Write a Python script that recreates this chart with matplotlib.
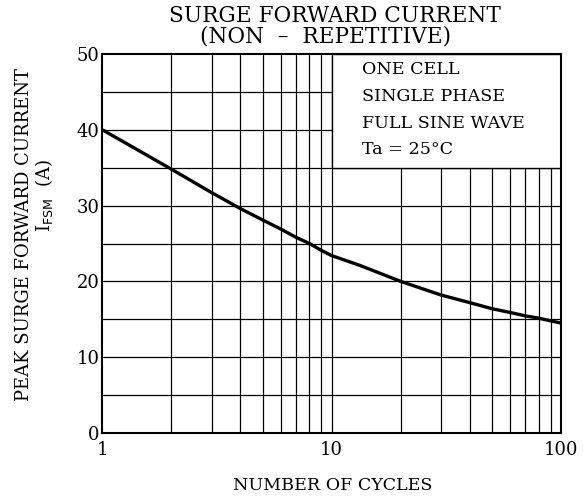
import matplotlib
matplotlib.use("Agg")
import matplotlib.pyplot as plt
from matplotlib.patches import Rectangle
import numpy as np

# Data
cycles = [1, 2, 3, 4, 5, 6, 7, 8, 9, 10, 13.3, 20, 30, 40, 50, 60, 70, 80, 90, 100]
ifsm = [40.0, 34.8, 31.7, 29.6, 28.1, 26.9, 25.8, 25.0, 24.1, 23.4, 22.1,
        20.0, 18.2, 17.2, 16.4, 15.9, 15.45, 15.15, 14.8, 14.5]

y_ticks = [0, 10, 20, 30, 40, 50]
y_minor = [5, 15, 25, 35, 45]
x_ticks = [1, 10, 100]
x_tick_labels = ["1", "10", "100"]
x_grid = [2, 3, 4, 5, 6, 7, 8, 9, 10, 20, 30, 40, 50, 60, 70, 80, 90]
note_lines = ["ONE CELL", "SINGLE PHASE", "FULL SINE WAVE", "Ta = 25°C"]

plt.rcParams['font.family'] = ['DejaVu Serif']

W, H = 583, 497
fig = plt.figure(figsize=(W / 100, H / 100), dpi=100)
ax = fig.add_axes([102.4 / W, 1 - 433 / H, (561 - 102.4) / W, (433 - 54) / H])
ax.set_xscale('log')
ax.set_xlim(1, 100)
ax.set_ylim(0, 50)

# grid
for xv in x_grid:
    ax.axvline(xv, color='black', lw=0.9, zorder=1)
for yv in sorted(y_ticks[1:-1] + y_minor):
    ax.axhline(yv, color='black', lw=0.9, zorder=1)

# note box (upper-right region)
box = Rectangle((10, 35), 90, 15, facecolor='white', edgecolor='black',
                lw=1.0, zorder=2)
ax.add_patch(box)
for i, t in enumerate(note_lines):
    fig.text(362 / W, 1 - (70 + i * 26.5) / H, t, fontsize=12.6,
             va='center', ha='left', zorder=5)

# curve
ax.plot(cycles, ifsm, color='black', lw=2.4, zorder=4, solid_capstyle='butt',
        solid_joinstyle='round')

ax.set_xticks(x_ticks)
ax.set_xticklabels(x_tick_labels)
ax.xaxis.set_minor_locator(matplotlib.ticker.NullLocator())
ax.set_yticks(y_ticks)
ax.tick_params(axis='both', length=0, labelsize=13)
ax.tick_params(axis='x', pad=6)
ax.tick_params(axis='y', pad=2)
for s in ax.spines.values():
    s.set_linewidth(1.5)
    s.set_zorder(6)

fig.text(335 / W, 1 - 16 / H, "SURGE FORWARD CURRENT", fontsize=15.6,
         ha='center', va='center')
fig.text(326 / W, 1 - 37 / H, "(NON  –  REPETITIVE)", fontsize=15.6,
         ha='center', va='center')
fig.text(333 / W, 1 - 485 / H, "NUMBER OF CYCLES", fontsize=12.6,
         ha='center', va='center')
fig.text(24 / W, 1 - 235 / H, "PEAK SURGE FORWARD CURRENT", fontsize=13,
         ha='center', va='center', rotation=90)
fig.text(44 / W, 1 - 196 / H, r"I$_{\rm FSM}$  (A)", fontsize=13,
         ha='center', va='center', rotation=90)

fig.savefig("out.png", dpi=100)
